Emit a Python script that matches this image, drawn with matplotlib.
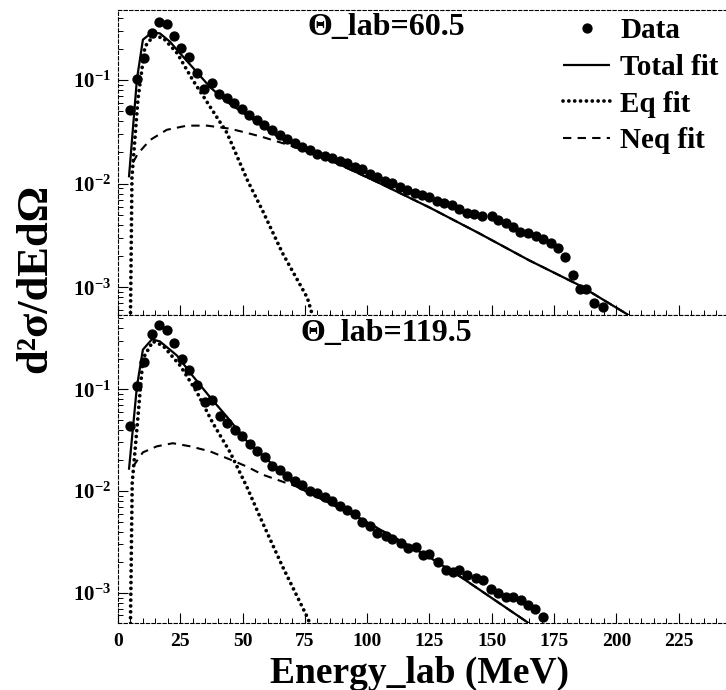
import matplotlib
matplotlib.use("Agg")
import matplotlib.pyplot as plt
from matplotlib.ticker import FixedLocator, FixedFormatter, MultipleLocator, LogLocator, NullFormatter

plt.rcParams['font.family'] = ['Liberation Serif', 'DejaVu Serif']
plt.rcParams['font.weight'] = 'bold'
plt.rcParams['mathtext.fontset'] = 'custom'
plt.rcParams['mathtext.rm'] = 'Liberation Serif:bold'
plt.rcParams['mathtext.it'] = 'Liberation Serif:bold'
plt.rcParams['mathtext.bf'] = 'Liberation Serif:bold'

# ---------------- data: Theta_lab = 60.5 ----------------
e_data_60 = [4.8, 7.6, 10.4, 13.6, 16.4, 19.6, 22.5, 25.3, 28.5, 31.7, 34.5, 37.7, 40.5, 43.7,
             46.5, 49.7, 52.5, 55.6, 58.6, 61.7, 65.0, 67.8, 71.0, 74.0, 77.0, 80.0, 83.0, 86.0,
             89.0, 92.0, 95.0, 98.0, 101.0, 104.0, 107.0, 110.0, 113.0, 116.0, 119.0, 122.0,
             125.0, 128.0, 131.0, 134.0, 137.0, 140.0, 143.0, 146.0, 150.0, 152.5, 155.6, 158.5,
             161.5, 164.5, 167.7, 170.5, 173.7, 176.5, 179.3, 182.5, 185.3, 188.0, 191.0, 194.5]
y_data_60 = [0.0513, 0.102, 0.162, 0.285, 0.363, 0.347, 0.266, 0.204, 0.166, 0.117, 0.0813, 0.0933,
             0.0733, 0.0676, 0.0603, 0.0525, 0.0457, 0.0407, 0.0372, 0.0331, 0.0295, 0.0269,
             0.0245, 0.0224, 0.0209, 0.0195, 0.0186, 0.0178, 0.0166, 0.0158, 0.0145, 0.0138,
             0.0123, 0.0115, 0.0105, 0.0102, 0.00933, 0.00871, 0.00813, 0.00776, 0.00741,
             0.00676, 0.00646, 0.00617, 0.00575, 0.00525, 0.00513, 0.00490, 0.00490, 0.00447,
             0.00417, 0.00380, 0.00339, 0.00331, 0.00309, 0.00295, 0.00269, 0.00240, 0.00195,
             0.00132, 0.000955, 0.000955, 0.000708, 0.000646]

e_tot_60 = [4.4, 7.6, 10.0, 13.6, 16.8, 20.9, 23.7, 30.0, 37.0, 43.7, 51.7, 65.0, 85.0, 105.0,
            125.0, 145.0, 165.0, 185.0, 205.0]
y_tot_60 = [0.0115, 0.102, 0.245, 0.288, 0.282, 0.234, 0.195, 0.132, 0.0851, 0.0617, 0.0457,
            0.0275, 0.0170, 0.0101, 0.00589, 0.00331, 0.00182, 0.00105, 0.000537]

e_eq_60 = [5.0, 5.6, 8.0, 10.8, 14.0, 18.0, 23.7, 30.0, 37.0, 43.7, 52.0, 58.0, 66.0, 76.0, 78.0]
y_eq_60 = [0.0005, 0.0115, 0.065, 0.21, 0.263, 0.257, 0.182, 0.100, 0.055, 0.031, 0.0107,
           0.0055, 0.00214, 0.00079, 0.00054]

e_neq_60 = [6.0, 8.0, 12.8, 19.6, 27.7, 35.7, 45.0, 51.7, 58.0, 69.0, 85.0, 105.0, 125.0, 145.0,
            165.0, 185.0, 205.0]
y_neq_60 = [0.016, 0.0195, 0.0263, 0.0331, 0.0363, 0.0363, 0.0339, 0.0309, 0.0282, 0.0234,
            0.0168, 0.0101, 0.00589, 0.00331, 0.00182, 0.00105, 0.000537]

# ---------------- data: Theta_lab = 119.5 ----------------
e_data_119 = [4.8, 7.6, 10.4, 13.6, 16.4, 19.6, 22.5, 25.7, 28.5, 31.7, 34.9, 37.7, 41.0, 43.7,
              47.0, 49.7, 53.0, 55.8, 59.0, 62.0, 65.0, 67.8, 71.0, 74.0, 77.0, 80.0, 83.0, 86.0,
              89.0, 92.0, 95.0, 98.0, 101.0, 104.0, 107.5, 110.0, 113.5, 116.3, 119.5, 122.3,
              125.0, 128.4, 131.6, 134.4, 137.0, 140.0, 143.6, 146.4, 149.6, 152.4, 155.6, 158.4,
              161.6, 164.5, 167.3, 170.5]
y_data_119 = [0.0437, 0.107, 0.186, 0.347, 0.427, 0.380, 0.282, 0.200, 0.155, 0.110, 0.0741,
              0.0776, 0.0550, 0.0468, 0.0398, 0.0347, 0.0288, 0.0245, 0.0214, 0.0178, 0.0162,
              0.0141, 0.0126, 0.0115, 0.0100, 0.00955, 0.00871, 0.00794, 0.00708, 0.00646,
              0.00589, 0.00501, 0.00457, 0.00389, 0.00363, 0.00339, 0.00309, 0.00275, 0.00282,
              0.00234, 0.00240, 0.00200, 0.00166, 0.00162, 0.00166, 0.00151, 0.00141, 0.00135,
              0.00110, 0.00100, 0.000912, 0.000912, 0.000851, 0.000759, 0.000692, 0.000575]

e_tot_119 = [4.4, 7.6, 10.0, 13.6, 16.8, 23.7, 30.0, 37.0, 43.7, 51.7, 72.0, 98.0, 125.0, 138.0, 165.0]
y_tot_119 = [0.0162, 0.107, 0.245, 0.309, 0.295, 0.214, 0.135, 0.0832, 0.0537, 0.0309, 0.0110,
             0.00525, 0.00224, 0.00141, 0.000501]

e_eq_119 = [5.0, 5.7, 7.6, 10.0, 14.0, 18.0, 25.0, 31.7, 38.0, 45.0, 51.7, 58.0, 66.0, 76.0, 77.0]
y_eq_119 = [0.0005, 0.012, 0.041, 0.20, 0.295, 0.269, 0.170, 0.0933, 0.0468, 0.024, 0.011,
            0.0049, 0.00182, 0.000575, 0.0005]

e_neq_119 = [6.0, 10.0, 15.6, 22.0, 29.0, 37.0, 45.0, 51.7, 58.0, 72.0, 98.0, 125.0, 138.0, 165.0]
y_neq_119 = [0.0174, 0.024, 0.0275, 0.0295, 0.0275, 0.0245, 0.0204, 0.0174, 0.0145, 0.0110,
             0.00525, 0.00224, 0.00141, 0.000501]

panel_titles = ['\u0398_lab=60.5', '\u0398_lab=119.5']
legend_labels = ['Data', 'Total fit', 'Eq fit', 'Neq fit']
xtick_values = [0, 25, 50, 75, 100, 125, 150, 175, 200, 225]
xtick_labels = ['0', '25', '50', '75', '100', '125', '150', '175', '200', '225']
ytick_values = [1e-3, 1e-2, 1e-1]
ytick_labels = ['$10^{-3}$', '$10^{-2}$', '$10^{-1}$']

W, H = 726, 690
fig = plt.figure(figsize=(W / 100, H / 100), dpi=100)
ax1 = fig.add_axes([118 / W, 375 / H, 608 / W, 305 / H])
ax2 = fig.add_axes([118 / W, 67 / H, 608 / W, 308 / H])

panels = [
    (ax1, e_data_60, y_data_60, e_tot_60, y_tot_60, e_eq_60, y_eq_60, e_neq_60, y_neq_60, (5.4e-4, 0.474)),
    (ax2, e_data_119, y_data_119, e_tot_119, y_tot_119, e_eq_119, y_eq_119, e_neq_119, y_neq_119, (5.06e-4, 0.536)),
]

handles = None
for i, (ax, ed, yd, et, yt, ee, ye, en, yn, ylim) in enumerate(panels):
    h_neq, = ax.plot(en, yn, color='black', lw=1.5, linestyle=(0, (4, 3)))
    h_eq, = ax.plot(ee, ye, color='black', lw=2.7, linestyle=(0, (0.01, 1.55)),
                    dash_capstyle='round')
    h_tot, = ax.plot(et, yt, color='black', lw=1.6, solid_capstyle='butt')
    h_dat, = ax.plot(ed, yd, 'o', color='black', ms=6.4, mec='black')
    if handles is None:
        handles = [h_dat, h_tot, h_eq, h_neq]
    ax.set_yscale('log')
    ax.set_xlim(0, 244)
    ax.set_ylim(*ylim)
    ax.yaxis.set_major_locator(FixedLocator(ytick_values))
    ax.yaxis.set_major_formatter(FixedFormatter(ytick_labels))
    ax.yaxis.set_minor_locator(LogLocator(base=10, subs=[2, 3, 4, 5, 6, 7, 8, 9], numticks=20))
    ax.yaxis.set_minor_formatter(NullFormatter())
    ax.xaxis.set_major_locator(FixedLocator(xtick_values))
    ax.xaxis.set_major_formatter(FixedFormatter(xtick_labels))
    ax.xaxis.set_minor_locator(MultipleLocator(5))
    ax.tick_params(axis='both', which='major', direction='in', length=7, width=0.8, labelsize=14)
    ax.tick_params(axis='y', which='major', labelsize=15, pad=5)
    ax.tick_params(axis='both', which='minor', direction='in', length=3.5, width=0.7)
    ax.tick_params(axis='x', which='major', pad=7)
    for s in ['left', 'bottom', 'top']:
        ax.spines[s].set_linestyle((0, (3, 2)))
        ax.spines[s].set_linewidth(0.8)
    ax.spines['right'].set_visible(False)
    ax.text(0.442, 0.941, panel_titles[i], transform=ax.transAxes, ha='center', va='center',
            fontsize=23, fontweight='bold')

ax1.tick_params(axis='x', labelbottom=False)

ax1.legend(handles, legend_labels, loc='upper right', bbox_to_anchor=(1.0, 1.0), frameon=False,
           fontsize=21, handlelength=1.6, handletextpad=0.35, labelspacing=0.33,
           numpoints=1, borderaxespad=0.1, borderpad=0.15)

fig.text(35 / W, 1 - 278 / H, 'd\u00b2\u03c3/dEd\u03a9', rotation=90, ha='center', va='center',
         fontsize=32, fontweight='bold')
fig.text(419 / W, 1 - 683 / H, 'Energy_lab (MeV)', ha='center', va='baseline',
         fontsize=27, fontweight='bold')

fig.savefig('out.png', dpi=100)
